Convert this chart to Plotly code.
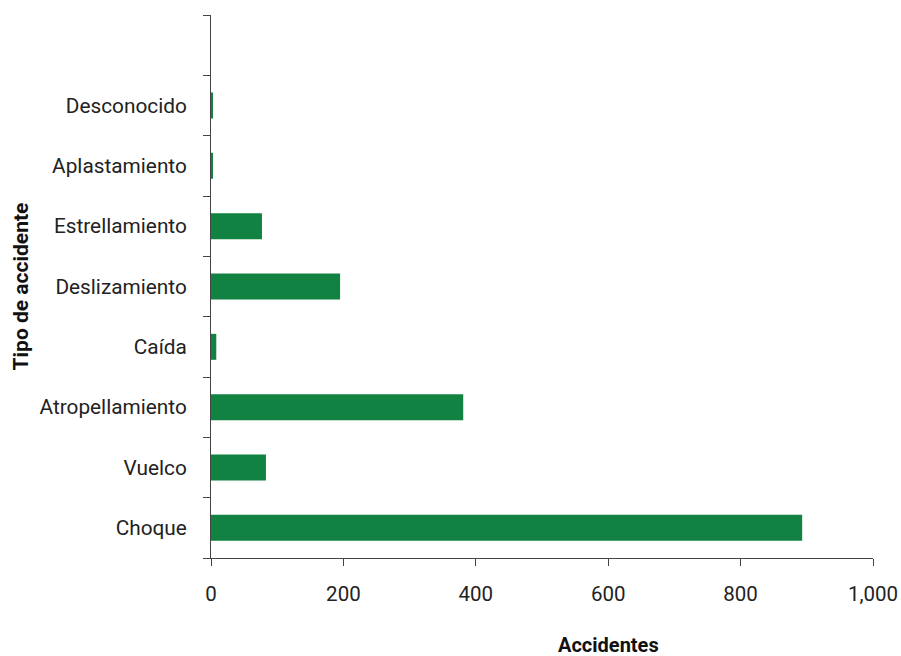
import plotly.graph_objects as go

categories = ["Choque", "Vuelco", "Atropellamiento", "Caída", "Deslizamiento",
              "Estrellamiento", "Aplastamiento", "Desconocido"]
values = [893, 83, 381, 8, 195, 77, 2, 2]
x_ticks = [0, 200, 400, 600, 800, 1000]
x_tick_labels = ["0", "200", "400", "600", "800", "1,000"]

FONT = "Roboto, Arial, sans-serif"

fig = go.Figure(go.Bar(
    x=values, y=categories, orientation="h",
    marker=dict(color="#118241", line=dict(width=0)),
    width=0.43,
))

fig.update_layout(
    width=901, height=656,
    margin=dict(l=211, r=28, t=15, b=98),
    plot_bgcolor="white", paper_bgcolor="white",
    font=dict(family=FONT, size=20, color="#222222"),
    showlegend=False,
    bargap=0.57,
)
fig.update_xaxes(
    range=[0, 1000], tickvals=x_ticks, ticktext=x_tick_labels,
    showgrid=False, zeroline=False, automargin=False,
    showline=True, linecolor="#444444", linewidth=1,
    ticks="outside", ticklen=7, tickcolor="#444444",
    tickfont=dict(size=20.5, color="#222222"),
    ticklabelstandoff=10,
)
fig.update_yaxes(
    type="category", categoryorder="array", categoryarray=categories + [" "],
    range=[-0.5, 8.5], automargin=False,
    showgrid=False, zeroline=False,
    showline=True, linecolor="#444444", linewidth=1,
    ticks="outside", ticklen=7, tickcolor="#444444", tickson="boundaries",
    tickfont=dict(size=20.8, color="#222222"),
    ticklabelstandoff=19,
)
fig.add_annotation(text="<b>Accidentes</b>", x=600, xref="x", y=0, yref="paper",
                   yanchor="middle", yshift=-87, showarrow=False,
                   font=dict(size=20, family=FONT, color="#111111"))
fig.add_annotation(text="<b>Tipo de accidente</b>", textangle=-90,
                   x=0, xref="paper", xanchor="center", xshift=-191,
                   y=0.5, yref="paper", showarrow=False,
                   font=dict(size=21, family=FONT, color="#111111"))

fig.write_html(
    "out.html",
    config={"displayModeBar": False},
    post_script="document.body.style.margin='0';document.documentElement.style.overflow='hidden';",
)
